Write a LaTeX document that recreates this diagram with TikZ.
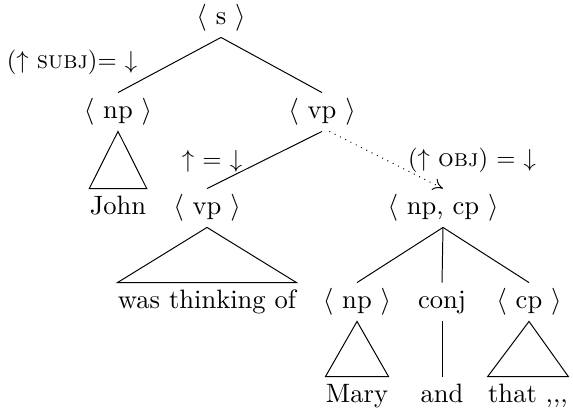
\documentclass[tikz,border=0pt]{standalone}
\usetikzlibrary{arrows.meta}
\tikzset{
  cat/.style={font=\fontsize{10.8pt}{13pt}\selectfont, inner xsep=0pt, inner ysep=2.3pt,
    text height=8.1pt, text depth=2.7pt},
  annot/.style={font=\fontsize{10pt}{12pt}\selectfont, inner sep=0pt},
  branch/.style={thin},
  funct/.style={thin, dotted, -{To[length=4pt,width=5pt]}}
}
\begin{document}
\begin{tikzpicture}[x=0.4065pt, y=-0.4065pt]
            \useasboundingbox (0,0) rectangle (573,410);

            % Category nodes
            \node[cat] (S) at (221,18) {$\langle$ s $\rangle$};
            \node[cat] (NPa) at (118,112) {$\langle$ np $\rangle$};
            \node[cat] (VPa) at (322,112) {$\langle$ vp $\rangle$};
            \node[cat] (VPb) at (207,208) {$\langle$ vp $\rangle$};
            \node[cat] (NPCP) at (443,208) {$\langle$ np, cp $\rangle$};
            \node[cat] (NPb) at (357,302) {$\langle$ np $\rangle$};
            \node[cat] (Conj) at (442,302) {conj};
            \node[cat] (CP) at (529,302) {$\langle$ cp $\rangle$};

            % Words
            \node[cat] (John) at (118,208) {John};
            \node[cat] (Was) at (207,302) {was thinking of};
            \node[cat] (Mary) at (357,396) {Mary};
            \node[cat] (And) at (442,396) {and};
            \node[cat] (That) at (528,396) {that ,{},{},};

            % Functional annotations
            \node[annot] (SubjEq) at (72,62) {($\uparrow$ \textsc{subj})= $\downarrow$};
            \node[annot] (HeadEq) at (212,161) {$\uparrow$ = $\downarrow$};
            \node[annot] (ObjEq) at (472,160) {($\uparrow$ \textsc{obj}) = $\downarrow$};

            % Branches
            \draw[branch] (S.south) -- (NPa.north);
            \draw[branch] (S.south) -- (VPa.north);
            \draw[branch] (VPa.south) -- (VPb.north);
            \draw[funct] ([xshift=3pt]VPa.south) -- (NPCP.north);
            \draw[branch] (NPCP.south) -- (NPb.north);
            \draw[branch] (NPCP.south) -- (Conj.north);
            \draw[branch] (NPCP.south) -- (CP.north);
            \draw[branch] (Conj.south) -- (And.north);

            % Triangles over the words
            \draw[branch] (NPa.south) -- (John.north west) -- (John.north east) -- cycle;
            \draw[branch] (VPb.south) -- (Was.north west) -- (Was.north east) -- cycle;
            \draw[branch] (NPb.south) -- (Mary.north west) -- (Mary.north east) -- cycle;
            \draw[branch] (CP.south) -- (That.north west) -- (That.north east) -- cycle;
        \end{tikzpicture}
\end{document}
